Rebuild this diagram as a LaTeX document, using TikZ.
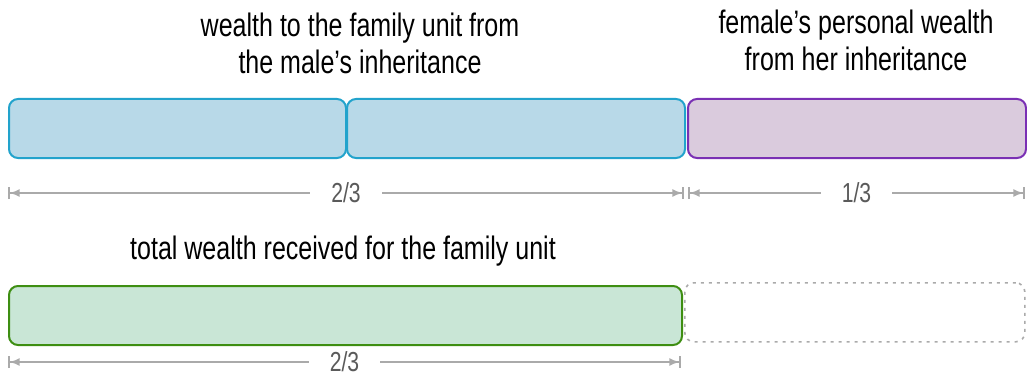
\documentclass[tikz,border=0pt]{standalone}
\usepackage{fontspec}
\setmainfont{Liberation Sans}[FakeStretch=0.77]
\usetikzlibrary{arrows.meta,calc}
\definecolor{bluefill}{HTML}{B8D9E8}
\definecolor{blueline}{HTML}{22A3CC}
\definecolor{purplefill}{HTML}{DACBDD}
\definecolor{purpleline}{HTML}{7A30B4}
\definecolor{greenfill}{HTML}{C9E6D6}
\definecolor{greenline}{HTML}{3E8E12}
\definecolor{dimgray}{HTML}{AAAAAA}
\definecolor{labgray}{HTML}{5A5A5A}
\tikzset{
  bar/.style={rounded corners=9pt, line width=2pt, minimum height=59pt, inner sep=0pt},
  bluebar/.style={bar, draw=blueline, fill=bluefill},
  purplebar/.style={bar, draw=purpleline, fill=purplefill},
  greenbar/.style={bar, draw=greenline, fill=greenfill},
  emptybar/.style={bar, draw=dimgray, line width=1.6pt, dash pattern=on 3pt off 5pt},
  dimline/.style={draw=dimgray, line width=1.8pt,
     {Bar[width=12pt,line width=1.6pt]Latex[length=10pt,width=8pt]}-{Latex[length=10pt,width=8pt]Bar[width=12pt,line width=1.6pt]}},
  dimlabel/.style={fill=white, text=labgray, font=\fontsize{27.5pt}{30pt}\selectfont, inner xsep=21pt, inner ysep=2pt},
  caption/.style={align=center, font=\fontsize{32.5pt}{37pt}\selectfont, text=black}
}
\begin{document}
\begin{tikzpicture}[x=1pt,y=-1pt]
\useasboundingbox (0,0) rectangle (1027,377);
% top row
\node[bluebar, minimum width=337pt, anchor=north west] (b1) at (8,98) {};
\node[bluebar, minimum width=338pt, anchor=north west] (b2) at (346,98) {};
\node[purplebar, minimum width=338pt, anchor=north west] (p1) at (687,98) {};
% captions
\node[caption] (t1) at (360,43) {wealth to the family unit from\\the male’s inheritance};
\node[caption] (t2) at (856,40) {female’s personal wealth\\from her inheritance};
% top dimension lines
\coordinate (d1a) at (8,193);
\coordinate (d1b) at (684,193);
\coordinate (d2a) at (688,193);
\coordinate (d2b) at (1025,193);
\draw[dimline] (d1a) -- node[dimlabel] (l1) {2/3} (d1b);
\draw[dimline] (d2a) -- node[dimlabel] (l2) {1/3} (d2b);
% bottom row
\node[caption] (t3) at (343,251) {total wealth received for the family unit};
\node[greenbar, minimum width=673pt, anchor=north west] (g1) at (8,285) {};
\node[emptybar, minimum width=340pt, anchor=north west] (e1) at (684,282) {};
\coordinate (d3a) at (8,362);
\coordinate (d3b) at (681,362);
\draw[dimline] (d3a) -- node[dimlabel] (l3) {2/3} (d3b);
\end{tikzpicture}
\end{document}
